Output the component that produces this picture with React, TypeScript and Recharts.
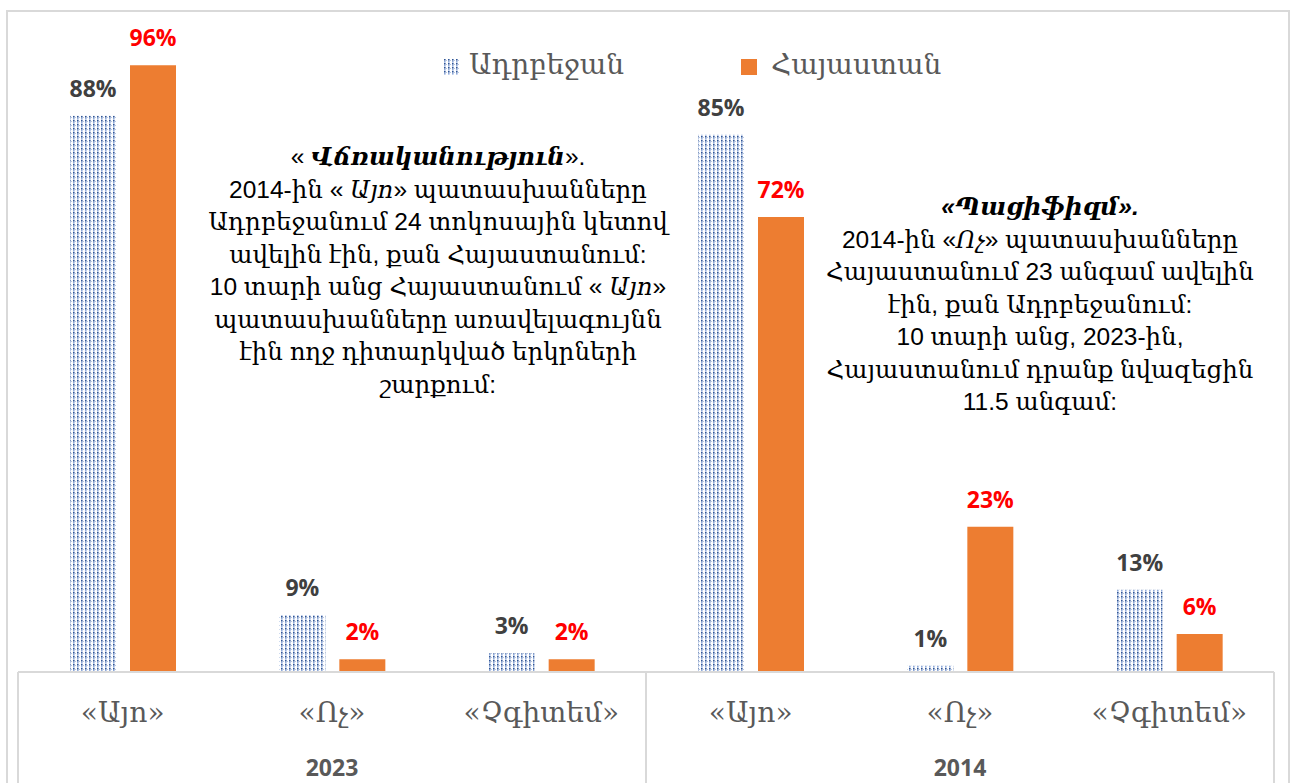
import React from 'react'
import { BarChart, Bar, XAxis, YAxis, LabelList } from 'recharts'

const categories = ['«Այո»', '«Ոչ»', '«Չգիտեմ»', '«Այո»', '«Ոչ»', '«Չգիտեմ»']
const years = ['2023', '2014']
const azerbaijan = [88, 9, 3, 85, 1, 13]
const armenia = [96, 2, 2, 72, 23, 6]
const seriesNames = ['Ադրբեջան', 'Հայաստան']

const data = categories.map((label, i) => ({
    key: i,
    label,
    year: years[Math.floor(i / 3)],
    az: azerbaijan[i],
    am: armenia[i],
}))

const W = 1291
const H = 783
const margin = { top: 40, right: 17, bottom: 0, left: 18 }
const band = (W - margin.left - margin.right) / categories.length

const armFont = '"Liberation Sans", "DejaVu Serif", serif'
const labelFont = '"DejaVu Serif", serif'
const gray = '#595959'
const lineColor = '#d9d9d9'
const orange = '#ED7D31'

function CategoryTick(props: any) {
    const { x, y, payload, index } = props
    const d = data[payload.value]
    return (
        <g>
            <text x={x} y={y + 50} textAnchor="middle" fill={gray} fontSize={28} fontFamily={labelFont}>
                {d.label}
            </text>
            {index % 3 === 1 && (
                <text x={x} y={y + 104} textAnchor="middle" fill={gray} fontSize={23} fontWeight={700} fontFamily='"Open Sans", sans-serif'>
                    {d.year}
                </text>
            )}
            {index % 3 === 0 && <line x1={x - band / 2} x2={x - band / 2} y1={y} y2={y + 120} stroke={lineColor} strokeWidth={2} />}
            {index === categories.length - 1 && <line x1={x + band / 2} x2={x + band / 2} y1={y} y2={y + 120} stroke={lineColor} strokeWidth={2} />}
        </g>
    )
}

function DotPattern({ id }: { id: string }) {
    return (
        <pattern id={id} width={4} height={4} patternUnits="userSpaceOnUse">
            <rect width={4} height={4} fill="#ffffff" />
            <rect x={1} y={0} width={1.6} height={1.6} fill="#2f5597" />
            <rect x={1} y={2} width={1.6} height={1.6} fill="#8eaadb" />
            <rect x={3} y={1} width={1} height={1} fill="#b4c7e7" />
        </pattern>
    )
}

function ChartLegend() {
    return (
        <div style={{ position: 'absolute', left: 443, top: 48, height: 40, width: 520, fontFamily: labelFont, fontSize: 28, color: gray }}>
            <svg width={16} height={16} style={{ position: 'absolute', left: 0, top: 11 }}>
                <defs><DotPattern id="azDotsLegend" /></defs>
                <rect width={16} height={16} fill="url(#azDotsLegend)" />
            </svg>
            <div style={{ position: 'absolute', left: 26, top: 0, whiteSpace: 'nowrap' }}>{seriesNames[0]}</div>
            <div style={{ position: 'absolute', left: 298, top: 11, width: 16, height: 16, background: orange }} />
            <div style={{ position: 'absolute', left: 328, top: 0, whiteSpace: 'nowrap' }}>{seriesNames[1]}</div>
        </div>
    )
}

const noteStyle: React.CSSProperties = {
    position: 'absolute',
    textAlign: 'center',
    fontFamily: armFont,
    fontSize: 24.5,
    lineHeight: '32.5px',
    color: '#000',
    whiteSpace: 'nowrap',
}

export default function App() {
    return (
        <div style={{ position: 'absolute', left: 0, top: 0, width: W, height: H, background: '#fff', overflow: 'hidden' }}>
            <div style={{ position: 'absolute', left: 6, top: 10, width: 1284, height: 800, border: `2px solid ${lineColor}`, boxSizing: 'border-box' }} />
            <BarChart width={W} height={H} data={data} margin={margin} barSize={46} barGap={14}>
                <defs>
                    <DotPattern id="azDots" />
                </defs>
                <XAxis
                    dataKey="key"
                    height={111}
                    tickSize={0}
                    tickMargin={0}
                    tickLine={false}
                    axisLine={{ stroke: lineColor, strokeWidth: 2 }}
                    tick={<CategoryTick />}
                    interval={0}
                />
                <YAxis hide domain={[0, 100]} />
                <Bar dataKey="az" name={seriesNames[0]} fill="url(#azDots)" isAnimationActive={false}>
                    <LabelList dataKey="az" position="top" offset={19} formatter={(v: any) => `${v}%`} fill="#404040" fontSize={23} fontWeight={700} fontFamily='"Open Sans", sans-serif' />
                </Bar>
                <Bar dataKey="am" name={seriesNames[1]} fill={orange} isAnimationActive={false}>
                    <LabelList dataKey="am" position="top" offset={19} formatter={(v: any) => `${v}%`} fill="#FF0000" fontSize={23} fontWeight={700} fontFamily='"Open Sans", sans-serif' />
                </Bar>
            </BarChart>

            <ChartLegend />

            <div style={{ ...noteStyle, left: 438 - 260, top: 141, width: 520 }}>
                <div>« <b><i>Վճռականություն</i></b>».</div>
                <div>2014-ին « <i>Այո</i>» պատասխանները</div>
                <div>Ադրբեջանում 24 տոկոսային կետով</div>
                <div>ավելին էին, քան Հայաստանում:</div>
                <div>10 տարի անց Հայաստանում « <i>Այո</i>»</div>
                <div>պատասխանները առավելագույնն</div>
                <div>էին ողջ դիտարկված երկրների</div>
                <div>շարքում:</div>
            </div>

            <div style={{ ...noteStyle, left: 1040 - 240, top: 191, width: 480 }}>
                <div><b><i>«Պացիֆիզմ».</i></b></div>
                <div>2014-ին «<i>Ոչ</i>» պատասխանները</div>
                <div>Հայաստանում 23 անգամ ավելին</div>
                <div>էին, քան Ադրբեջանում:</div>
                <div>10 տարի անց, 2023-ին,</div>
                <div>Հայաստանում դրանք նվազեցին</div>
                <div>11.5 անգամ:</div>
            </div>
        </div>
    )
}
